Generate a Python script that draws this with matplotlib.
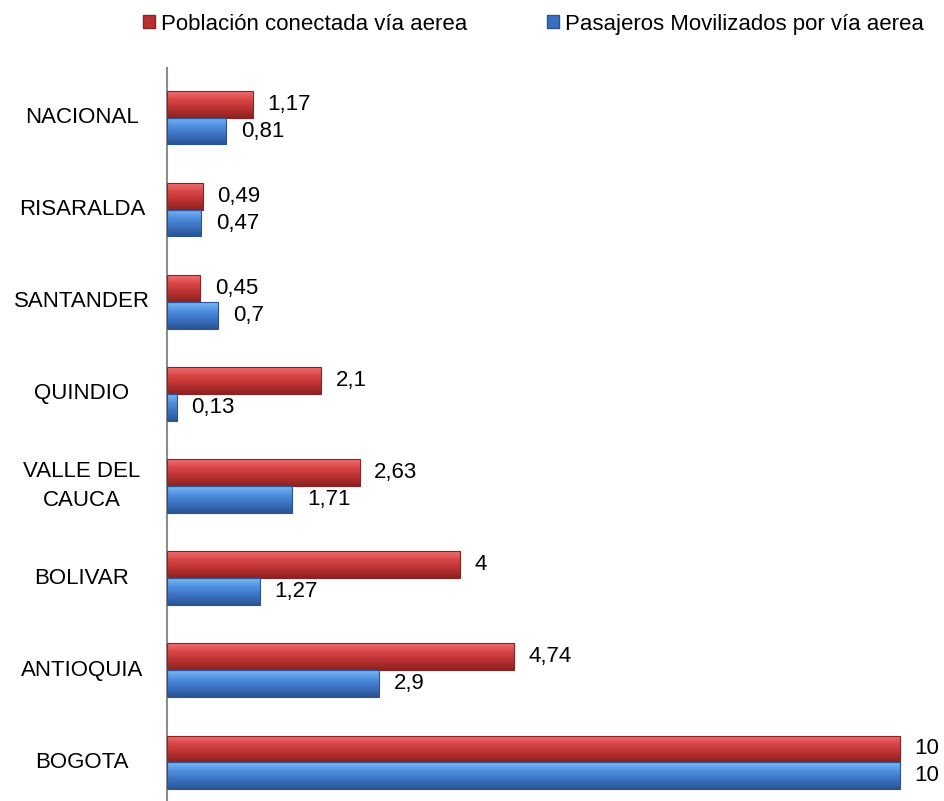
import numpy as np
import matplotlib.pyplot as plt
from matplotlib.colors import LinearSegmentedColormap
from matplotlib.patches import Patch

plt.rcParams['font.family'] = ['Liberation Sans Narrow', 'Liberation Sans', 'DejaVu Sans']

# datos
departamentos = ['BOGOTA', 'ANTIOQUIA', 'BOLIVAR', 'VALLE DEL\nCAUCA',
                 'QUINDIO', 'SANTANDER', 'RISARALDA', 'NACIONAL']
poblacion = [10, 4.74, 4, 2.63, 2.1, 0.45, 0.49, 1.17]
pasajeros = [10, 2.9, 1.27, 1.71, 0.13, 0.7, 0.47, 0.81]
serie_pob = 'Población conectada vía aerea'
serie_pas = 'Pasajeros Movilizados por vía aerea'

rojo = ['#f07070', '#d84444', '#b83030', '#8e2222']
azul = ['#7ab8f5', '#4f8fe0', '#3a70bf', '#2a5494']


def fmt(v):
    return ('%g' % v).replace('.', ',')


def degradado(ax, barras, colores):
    cmap = LinearSegmentedColormap.from_list('g', colores[::-1])
    grad = np.linspace(0, 1, 64).reshape(-1, 1)
    for b in barras:
        x0, y0 = b.get_x(), b.get_y()
        w, h = b.get_width(), b.get_height()
        im = ax.imshow(grad, cmap=cmap, aspect='auto', origin='lower',
                       extent=(x0, x0 + w, y0, y0 + h), zorder=2)
        im.set_clip_path(b)


fig = plt.figure(figsize=(9.44, 8.01), dpi=100)
ax = fig.add_axes([167 / 944, 1 / 801, (940 - 167) / 944, (800 - 68) / 801])

y = np.arange(len(departamentos))
h = 0.29
b1 = ax.barh(y + h / 2, poblacion, height=h, color=rojo[1], edgecolor=rojo[3], linewidth=0.8, zorder=1)
b2 = ax.barh(y - h / 2, pasajeros, height=h, color=azul[1], edgecolor=azul[3], linewidth=0.8, zorder=1)
degradado(ax, b1, rojo)
degradado(ax, b2, azul)
for b in list(b1) + list(b2):
    b.set_facecolor('none')
    b.set_zorder(3)

for i in range(len(departamentos)):
    ax.text(poblacion[i] + 0.2, y[i] + h / 2, fmt(poblacion[i]), va='center', ha='left', fontsize=16)
    ax.text(pasajeros[i] + 0.2, y[i] - h / 2, fmt(pasajeros[i]), va='center', ha='left', fontsize=16)
    ax.text(-85 / 73.3, y[i], departamentos[i], va='center', ha='center', fontsize=16,
            linespacing=1.5)

ax.set_xlim(0, 10.55)
ax.set_ylim(-0.41, 7.54)
ax.set_xticks([])
ax.set_yticks([])
for s in ['top', 'right', 'bottom']:
    ax.spines[s].set_visible(False)
ax.spines['left'].set_color('#8c8c8c')
ax.spines['left'].set_linewidth(1.5)

handles = [Patch(facecolor=rojo[2], edgecolor=rojo[3]), Patch(facecolor=azul[2], edgecolor=azul[3])]
fig.legend(handles, [serie_pob, serie_pas], loc='upper center', bbox_to_anchor=(0.565, 1.008),
           ncol=2, frameon=False, fontsize=16, handlelength=0.55, handleheight=0.55,
           handletextpad=0.25, columnspacing=3.6)

fig.savefig('out.png', dpi=100)
